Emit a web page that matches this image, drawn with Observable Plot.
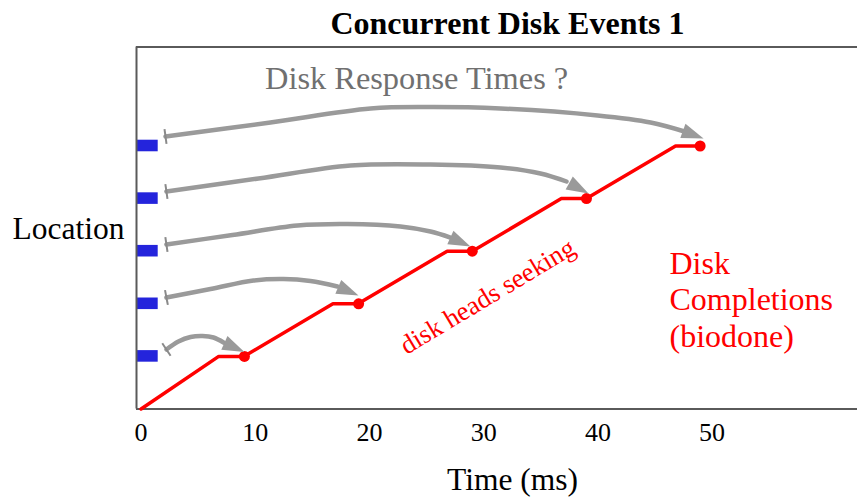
<!DOCTYPE html>
<html><head><meta charset="utf-8">
<script src="https://cdn.jsdelivr.net/npm/d3@7"></script>
<script src="https://cdn.jsdelivr.net/npm/@observablehq/plot@0.6"></script>
<style>body{margin:0;background:#fff}svg{display:block}</style>
</head><body><div id="chart"></div>
<script>
// ---- data ----
const xTicks = [0, 10, 20, 30, 40, 50];
const requestLocations = [1, 2, 3, 4, 5];
const requestEnd = 1.5;
const seekTimes = [0, 6.8, 9, 16.8, 19, 26.8, 29, 36.8, 39, 46.8, 49];
const seekLocations = [0, 1, 1, 2, 2, 3, 3, 4, 4, 5, 5];
const completionTimes = [9.05, 19.05, 29, 39, 48.95];
const completionLocations = [1, 2, 3, 4, 5];

const arrow1Times = [2.22, 3.27, 4.33, 5.38, 6.34, 7.22, 9.05];
const arrow1Locs  = [1.131, 1.283, 1.369, 1.388, 1.359, 1.264, 1.084];
const arrow2Times = [2.22, 6.08, 9.84, 12.47, 14.83, 17.20, 19.04];
const arrow2Locs  = [2.120, 2.281, 2.443, 2.471, 2.433, 2.329, 2.158];
const arrow3Times = [2.22, 8.00, 13.70, 18.07, 22.71, 25.34, 27.09, 28.84];
const arrow3Locs  = [3.127, 3.308, 3.489, 3.517, 3.470, 3.375, 3.260, 3.089];
const arrow4Times = [2.22, 10.28, 18.34, 25.34, 31.47, 34.97, 37.25, 39.18];
const arrow4Locs  = [4.135, 4.382, 4.629, 4.648, 4.591, 4.477, 4.325, 4.097];
const arrow5Times = [2.14, 11.33, 20.09, 25.34, 31.47, 39.97, 44.61, 47.58, 49.25];
const arrow5Locs  = [5.181, 5.447, 5.713, 5.741, 5.713, 5.580, 5.447, 5.276, 5.143];

// ---- layout ----
const W = 857, H = 497, ML = 136, MR = 0, MT = 46.5, MB = 88.5;
const XDOM = [-0.4, 62.73], YDOM = [0, 6.882];
const sx = Plot.scale({x: {domain: XDOM, range: [ML, W - MR]}});
const sy = Plot.scale({y: {domain: YDOM, range: [H - MB, MT]}});
const ang = (t0, l0, t1, l1) =>
  Math.atan2(sy.apply(l1) - sy.apply(l0), sx.apply(t1) - sx.apply(t0)) * 180 / Math.PI;

const arrows = [
  [arrow1Times, arrow1Locs], [arrow2Times, arrow2Locs], [arrow3Times, arrow3Locs],
  [arrow4Times, arrow4Locs], [arrow5Times, arrow5Locs]
];
const arrowPoints = arrows.flatMap(([T, L], i) =>
  T.slice(0, -1).map((t, j) => ({id: i, t, loc: L[j]})));
const heads = arrows.map(([T, L]) => {
  const n = T.length;
  return {t: T[n - 1], loc: L[n - 1], angle: ang(T[n - 2], L[n - 2], T[n - 1], L[n - 1])};
});
const starts = arrows.map(([T, L]) => ({t: T[0], loc: L[0], angle: ang(T[0], L[0], T[1], L[1])}));
const seek = seekTimes.map((t, i) => ({t, loc: seekLocations[i]}));
const done = completionTimes.map((t, i) => ({t, loc: completionLocations[i]}));

const headSymbol = {draw(ctx) { ctx.moveTo(0, 0); ctx.lineTo(-22, -7.5); ctx.lineTo(-22, 7.5); ctx.closePath(); }};
const tbarSymbol = {draw(ctx) { ctx.moveTo(0, -7.5); ctx.lineTo(0, 7.5); }};

const serif = "'Liberation Serif', 'Times New Roman', serif";
const chart = Plot.plot({
  width: W, height: H,
  marginLeft: ML, marginRight: MR, marginTop: MT, marginBottom: MB,
  style: {fontFamily: serif, fontSize: "25px", background: "white", color: "black"},
  x: {domain: XDOM},
  y: {domain: YDOM, axis: null},
  marks: [
    Plot.axisX({ticks: xTicks, tickSize: 0, tickPadding: 14, fontSize: 26, label: null, anchor: "bottom"}),
    Plot.rect(requestLocations, {x1: () => XDOM[0], x2: () => requestEnd,
      y1: d => d - 0.11, y2: d => d + 0.11, fill: "#2424dc"}),
    Plot.ruleX([XDOM[0]], {stroke: "#5a5a5a", strokeWidth: 2}),
    Plot.ruleY([YDOM[0], YDOM[1]], {stroke: "#5a5a5a", strokeWidth: 2}),
    Plot.line(arrowPoints, {x: "t", y: "loc", z: "id", curve: "catmull-rom",
      stroke: "#9a9a9a", strokeWidth: 4.5}),
    Plot.dot(starts, {x: "t", y: "loc", rotate: "angle", symbol: tbarSymbol,
      fill: "none", stroke: "#8a8a8a", strokeWidth: 2, r: 5}),
    Plot.line(seek, {x: "t", y: "loc", stroke: "#ff0000", strokeWidth: 3.5}),
    Plot.dot(done, {x: "t", y: "loc", r: 5.5, fill: "#ff0000", stroke: "none"}),
    Plot.dot(heads, {x: "t", y: "loc", rotate: "angle", symbol: headSymbol,
      fill: "#9a9a9a", stroke: "none", r: 5}),
    Plot.text(["Concurrent Disk Events 1"], {text: d => d, frameAnchor: "top", lineAnchor: "middle",
      dx: 10.5, dy: -23, fontSize: 32, fontWeight: "bold", fill: "black"}),
    Plot.text(["Location"], {text: d => d, frameAnchor: "left", textAnchor: "start", lineAnchor: "middle",
      dx: -124, dy: 1.2, fontSize: 31.5, fill: "black"}),
    Plot.text(["Time (ms)"], {text: d => d, frameAnchor: "bottom", lineAnchor: "middle",
      dx: 15.5, dy: 71, fontSize: 31.5, fill: "black"}),
    Plot.text(["Disk Response Times ?"], {text: d => d, frameAnchor: "top-left", textAnchor: "start",
      lineAnchor: "middle", dx: 128.5, dy: 31.4, fontSize: 32.4, fill: "#707070"}),
    Plot.text(["Disk\nCompletions\n(biodone)"], {text: d => d, frameAnchor: "top-left", textAnchor: "start",
      lineAnchor: "top", lineHeight: 1.14, dx: 533, dy: 201, fontSize: 32, fill: "#ff0000"}),
    Plot.text(["disk heads seeking"], {text: d => d, frameAnchor: "top-left", rotate: -31,
      textAnchor: "middle", lineAnchor: "middle",
      dx: 351, dy: 249.5, fontSize: 26.5, fill: "#ff0000"})
  ]
});
document.getElementById("chart").appendChild(chart);
</script>
</body></html>
